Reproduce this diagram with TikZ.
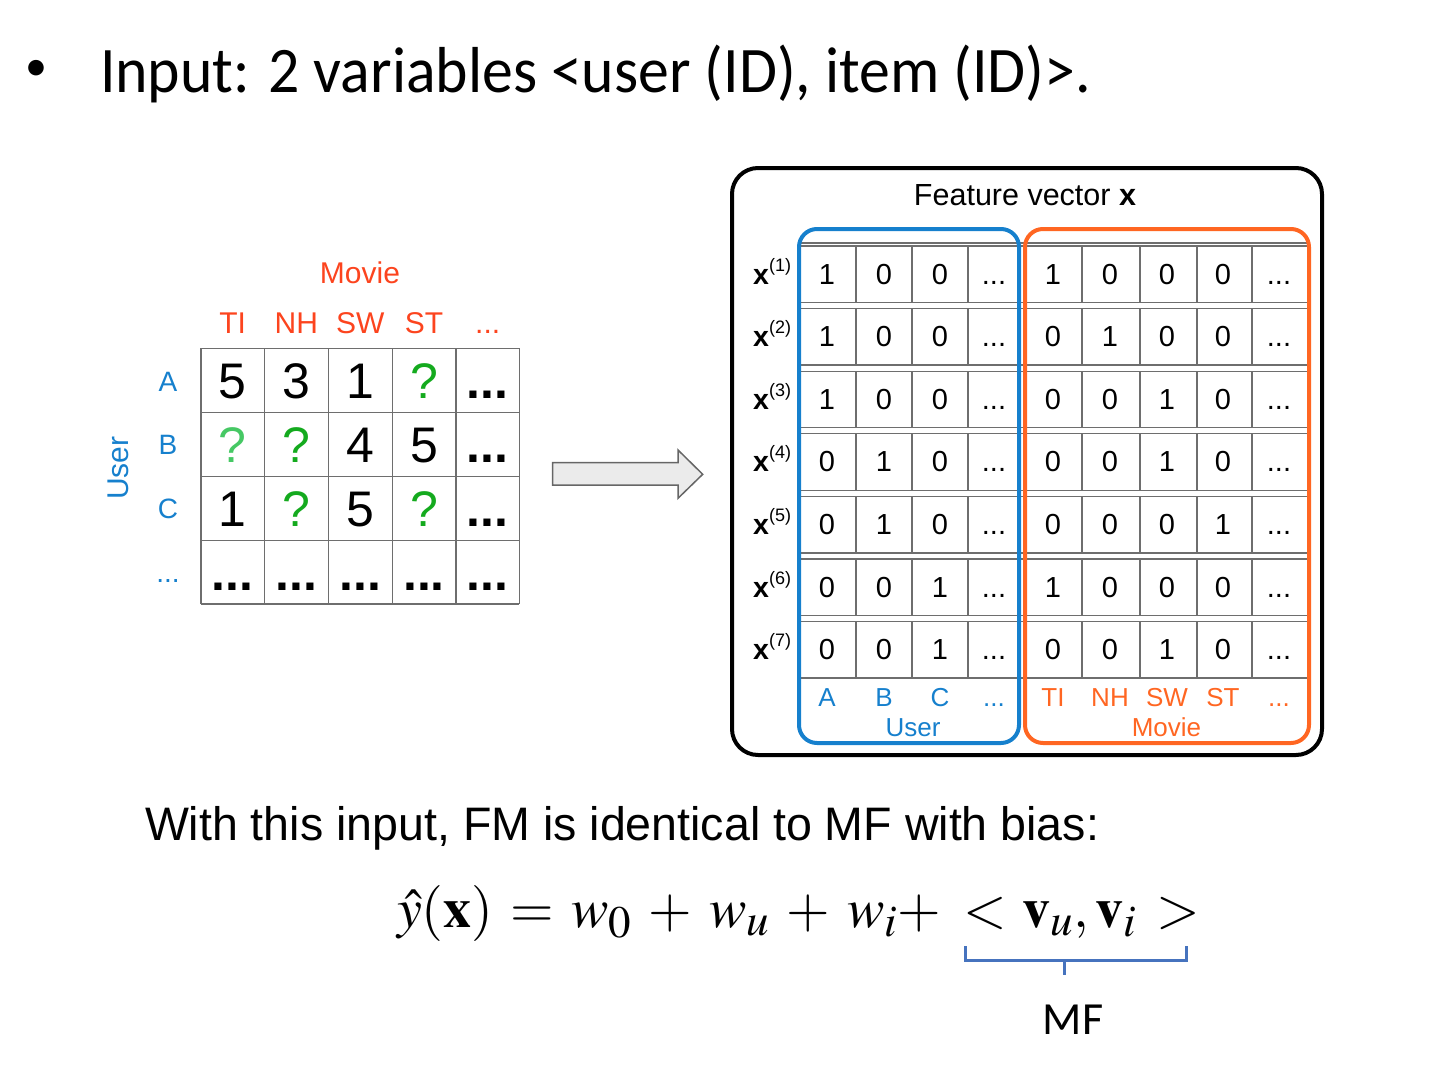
\documentclass[tikz,border=0pt]{standalone}
\usepackage{mathptmx}
\usepackage{fontspec}
\setmainfont{Liberation Sans}
\newfontfamily\calfont{Carlito}
\DeclareMathSizes{56}{56}{45}{36}
\definecolor{blueC}{RGB}{22,128,205}
\definecolor{orangeC}{RGB}{255,102,34}
\definecolor{redC}{RGB}{252,68,30}
\definecolor{greenC}{RGB}{20,170,30}
\definecolor{lgreenC}{RGB}{70,200,100}
\definecolor{braceC}{RGB}{70,115,190}
\definecolor{gridC}{RGB}{110,110,110}
\tikzset{
  txt/.style={inner sep=0pt, outer sep=0pt},
  big/.style={txt, anchor=base, font=\fontsize{50}{55}\selectfont},
  bigd/.style={big, font=\fontsize{50}{55}\selectfont\bfseries},
  head/.style={txt, anchor=base, text=redC, font=\fontsize{30}{34}\selectfont},
  ulab/.style={txt, anchor=base, text=blueC, font=\fontsize{28}{32}\selectfont},
  fv/.style={txt, anchor=base, font=\fontsize{29}{32}\selectfont},
  fvb/.style={txt, anchor=base, text=blueC, font=\fontsize{26}{30}\selectfont},
  fvo/.style={txt, anchor=base, text=orangeC, font=\fontsize{26}{30}\selectfont},
  gline/.style={draw=gridC, line width=1.3pt},
  frame/.style={rounded corners=18pt, line width=4pt},
}
\begin{document}
\begin{tikzpicture}[x=1pt,y=-1pt]
\useasboundingbox (0,0) rectangle (1452,1076);
% title
\node[txt] (bul) at (36,70) {\calfont\fontsize{44}{48}\selectfont •};
\node[txt, anchor=base west, xscale=0.95] (title) at (100,92) {\calfont\fontsize{65}{70}\selectfont Input: 2 variables <user (ID), item (ID)>.};

% left matrix grid
\foreach \x in {201,264.3,328.3,392.3,456,519.3} \draw[gline] (\x,348.3) -- (\x,604);
\foreach \y in {348.3,412.7,476.7,540.7,604} \draw[gline] (201,\y) -- (519.3,\y);
% headers
\node[head] (movie) at (360,283.3) {Movie};
\node[head] (hTI) at (232.6,333.3) {TI};
\node[head] (hNH) at (296.3,333.3) {NH};
\node[head] (hSW) at (360.3,333.3) {SW};
\node[head] (hST) at (424,333.3) {ST};
\node[head] (hdots) at (487.7,333.3) {...};
\node[ulab] (rA) at (168,391.7) {A};
\node[ulab] (rB) at (168,454) {B};
\node[ulab] (rC) at (168,518) {C};
\node[ulab] (rD) at (168,582.7) {...};
\node[txt, rotate=90, text=blueC, font=\fontsize{30}{34}\selectfont] (user) at (118,468) {User};
% values
\node[big] (m11) at (232.6,398.5) {5};
\node[big] (m12) at (296.3,398.5) {3};
\node[big] (m13) at (360.3,398.5) {1};
\node[big, text=greenC] (m14) at (424,398.5) {?};
\node[bigd] (m15) at (487.7,398.5) {...};
\node[big, text=lgreenC] (m21) at (232.6,462.7) {?};
\node[big, text=greenC] (m22) at (296.3,462.7) {?};
\node[big] (m23) at (360.3,462.7) {4};
\node[big] (m24) at (424,462.7) {5};
\node[bigd] (m25) at (487.7,462.7) {...};
\node[big] (m31) at (232.6,526.7) {1};
\node[big, text=greenC] (m32) at (296.3,526.7) {?};
\node[big] (m33) at (360.3,526.7) {5};
\node[big, text=greenC] (m34) at (424,526.7) {?};
\node[bigd] (m35) at (487.7,526.7) {...};
\foreach \x [count=\i] in {232.6,296.3,360.3,424,487.7}
  \node[bigd] (m4\i) at (\x,590.4) {...};

% big arrow
\draw[fill=black!8, draw=black!60, line width=1.5pt]
  (552.7,462.7) -- (678,462.7) -- (678,450) -- (702.7,474.3) -- (678,498.3) -- (678,485) -- (552.7,485) -- cycle;

% feature vector frame
\draw[frame, rounded corners=26pt] (732,168) rectangle (1322,755);
\node[txt, anchor=base, font=\fontsize{30.5}{34}\selectfont] (fvt) at (1025,205) {Feature vector \textbf{x}};

% rows
\draw[gline] (799,243) -- (1309,243);
\foreach \r/\a/\b/\c/\d/\e/\f/\g in {1/1/0/0/1/0/0/0, 2/1/0/0/0/1/0/0, 3/1/0/0/0/0/1/0, 4/0/1/0/0/0/1/0, 5/0/1/0/0/0/0/1, 6/0/0/1/1/0/0/0, 7/0/0/1/0/0/1/0}{
  \pgfmathsetmacro{\top}{246+62.6*(\r-1)}
  \pgfmathsetmacro{\bot}{\top+56.5}
  \pgfmathsetmacro{\yb}{\top+38}
  \draw[gline] (799,\top) rectangle (1309,\bot);
  \foreach \x in {856,912,968,1082,1140,1197,1252} \draw[gline] (\x,\top) -- (\x,\bot);
  \node[fv] (v\r-1) at (827,\yb) {\a};
  \node[fv] (v\r-2) at (884,\yb) {\b};
  \node[fv] (v\r-3) at (940,\yb) {\c};
  \node[fv] (v\r-4) at (994,\yb) {...};
  \node[fv] (v\r-5) at (1053,\yb) {\d};
  \node[fv] (v\r-6) at (1110,\yb) {\e};
  \node[fv] (v\r-7) at (1167,\yb) {\f};
  \node[fv] (v\r-8) at (1223,\yb) {\g};
  \node[fv] (v\r-9) at (1279,\yb) {...};
  \node[txt, anchor=base east, font=\fontsize{28.5}{30}\selectfont] (xl\r) at (791,\yb) {\textbf{x}\raisebox{0.45em}{\fontsize{18}{18}\selectfont(\r)}};
}
% group frames
\draw[frame, draw=blueC] (799,229) rectangle (1019,743);
\draw[frame, draw=orangeC] (1025,229) rectangle (1309,743);
% bottom labels
\node[fvb] (bA) at (827,706.7) {A};
\node[fvb] (bB) at (884,706.7) {B};
\node[fvb] (bC) at (940,706.7) {C};
\node[fvb] (bD) at (994,706.7) {...};
\node[fvb] (bUser) at (913,736.7) {User};
\node[fvo] (bTI) at (1053,706.7) {TI};
\node[fvo] (bNH) at (1110,706.7) {NH};
\node[fvo] (bSW) at (1167,706.7) {SW};
\node[fvo] (bST) at (1223,706.7) {ST};
\node[fvo] (bD2) at (1279,706.7) {...};
\node[fvo] (bMovie) at (1166.5,736.7) {Movie};

% sentence
\node[txt, anchor=base west, font=\fontsize{47}{50}\selectfont, xscale=0.99] (sent) at (145,840) {With this input, FM is identical to MF with bias:};
% equation
\node[txt, anchor=base west, font=\fontsize{56}{60}\selectfont] (eq) at (397,927)
  {$\medmuskip=5.5mu \thickmuskip=5.5mu \hat{y}(\mathbf{x}) = w_{0} + w_{u} + w_{i}{+}\hspace{22pt}{<}\hspace{16pt}\mathbf{v}_{u},\mathbf{v}_{i}\hspace{20pt}{>}$};
% brace
\draw[draw=braceC, line width=3pt] (965,946) -- (965,960) -- (1186,960) -- (1186,946);
\draw[draw=braceC, line width=3pt] (1064,960) -- (1064,975);
\node[txt, anchor=base, font=\calfont\fontsize{46}{50}\selectfont] (mf) at (1073,1034) {MF};
\end{tikzpicture}
\end{document}
